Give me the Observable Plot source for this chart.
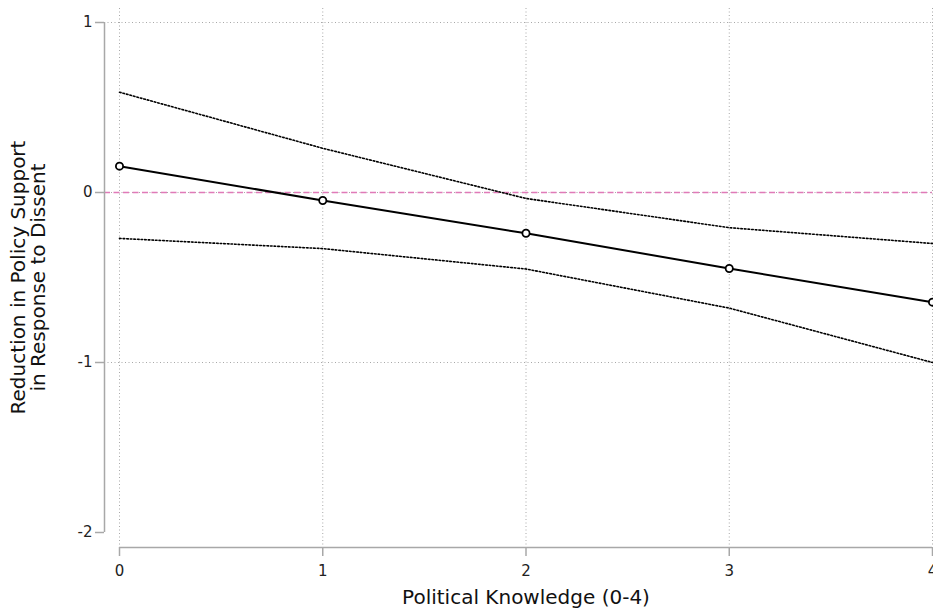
<!DOCTYPE html>
<html>
<head>
<meta charset="utf-8">
<script src="https://cdn.jsdelivr.net/npm/d3@7"></script>
<script src="https://cdn.jsdelivr.net/npm/@observablehq/plot@0.6"></script>
<style>
  html, body { margin: 0; padding: 0; background: #fff; overflow: hidden; }
</style>
</head>
<body>
<div id="chart"></div>
<script>
const knowledge = [0, 1, 2, 3, 4];
const estimate = [0.155, -0.047, -0.24, -0.447, -0.645];
const upper = [0.59, 0.26, -0.035, -0.207, -0.30];
const lower = [-0.27, -0.33, -0.45, -0.68, -1.0];
const xTicks = [0, 1, 2, 3, 4];
const yTicks = [1, 0, -1, -2];
const yGrid = [1, 0, -1];
const xTitle = "Political Knowledge (0-4)";
const yTitle = "Reduction in Policy Support\nin Response to Dissent";

const rows = knowledge.map((k, i) => ({k, est: estimate[i], hi: upper[i], lo: lower[i]}));

const font = "'DejaVu Sans', sans-serif";
const chart = Plot.plot({
  width: 933,
  height: 608,
  marginTop: 22,
  marginBottom: 76,
  marginLeft: 119,
  marginRight: 1,
  style: {fontFamily: font, background: "white", overflow: "visible"},
  x: {domain: [0, 4]},
  y: {domain: [-2, 1]},
  marks: [
    // grid
    Plot.ruleX(xTicks, {stroke: "#a8a8a8", strokeWidth: 1, strokeDasharray: "1,2.5", insetTop: -14, insetBottom: -15}),
    Plot.ruleY(yGrid, {stroke: "#a8a8a8", strokeWidth: 1, strokeDasharray: "1,2.5", insetLeft: -15}),
    // zero reference line
    Plot.ruleY([0], {stroke: "#e07ab8", strokeWidth: 1.4, strokeDasharray: "6,3.5", insetLeft: -15}),
    // axis lines
    Plot.ruleX([0], {y1: -2, y2: 1, dx: -15, stroke: "#a8a8a8", strokeWidth: 1.5}),
    Plot.ruleY([-2], {dy: 15, stroke: "#a8a8a8", strokeWidth: 1.5}),
    Plot.axisY(yTicks, {dx: -15, tickSize: 9, tickPadding: 3, stroke: "#a8a8a8", strokeWidth: 1.5, fill: "#222", fontSize: 15, label: null, tickFormat: d => d < 0 ? "-" + Math.abs(d) : String(d)}),
    Plot.axisX(xTicks, {dy: 15, tickSize: 9, tickPadding: 9, stroke: "#a8a8a8", strokeWidth: 1.5, fill: "#222", fontSize: 15, label: null, tickFormat: d => String(d)}),
    // confidence bounds
    Plot.line(rows, {x: "k", y: "hi", stroke: "#000", strokeWidth: 1.6, strokeDasharray: "1.6,2"}),
    Plot.line(rows, {x: "k", y: "lo", stroke: "#000", strokeWidth: 1.6, strokeDasharray: "1.6,2"}),
    // estimate
    Plot.line(rows, {x: "k", y: "est", stroke: "#000", strokeWidth: 2}),
    Plot.dot(rows, {x: "k", y: "est", r: 3.6, stroke: "#000", strokeWidth: 1.8, fill: "white"}),
    // titles
    Plot.text([xTitle], {frameAnchor: "bottom", dy: 71, fontSize: 20, fill: "#111"}),
    Plot.text([yTitle], {frameAnchor: "left", rotate: -90, dx: -91, fontSize: 20, lineHeight: 1.0, fill: "#111", lineAnchor: "middle", textAnchor: "middle"})
  ]
});
document.getElementById("chart").appendChild(chart);
</script>
</body>
</html>
